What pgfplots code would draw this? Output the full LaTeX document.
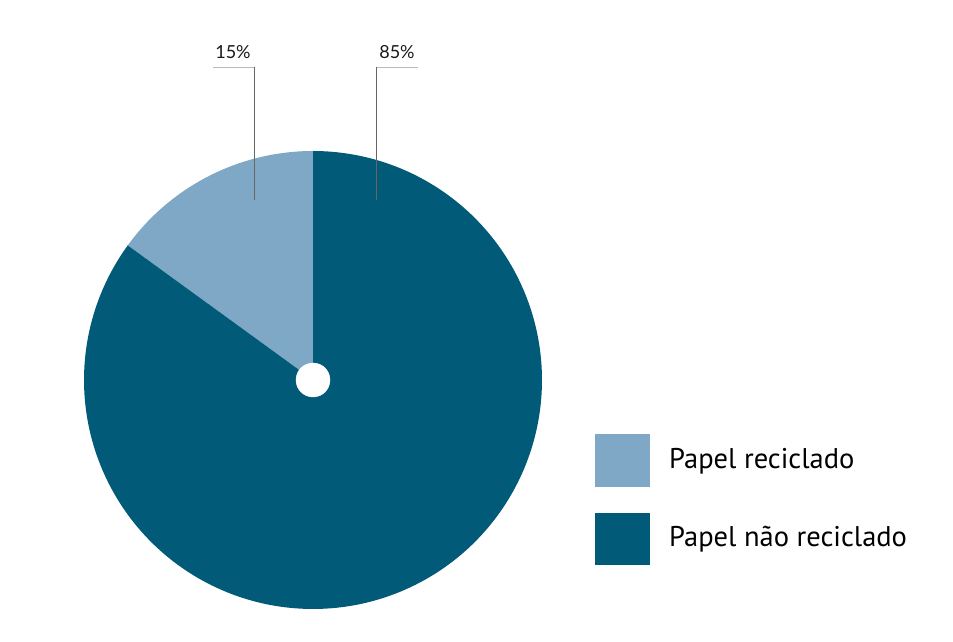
\documentclass[border=0pt]{standalone}
\usepackage{pgfplots}
\pgfplotsset{compat=1.18}
\usepackage{pgfplotstable}
\usepackage{fontspec}
\setmainfont{PT Sans}
\newfontfamily\labelfont{Lato}

\definecolor{pielight}{HTML}{7EA8C5}
\definecolor{piedark}{HTML}{005A78}
\definecolor{leadtop}{HTML}{BBBBBB}
\definecolor{leadvert}{HTML}{666666}

% share of each slice, in percent
\pgfplotstableread{
name      share
reciclado 15
nao       85
}\piedata

\pgfplotstablegetelem{0}{share}\of\piedata
\pgfmathsetmacro{\aSplit}{90+3.6*\pgfplotsretval}
\pgfmathsetmacro{\aEnd}{450}

\begin{document}
\begin{tikzpicture}
\begin{axis}[
	scale only axis,
	width=953pt, height=642pt,
	xmin=-313, xmax=640,
	ymin=-262, ymax=380,
	hide axis,
	clip=false,
]
% slices, counter-clockwise from the top
\addplot[fill=pielight, draw=none, domain=90:\aSplit, samples=60, data cs=polar]
	({x},{229}) -- (0,0) -- cycle;
\addplot[fill=piedark, draw=none, domain=\aSplit:\aEnd, samples=240, data cs=polar]
	({x},{229}) -- (0,0) -- cycle;
% hole in the middle
\addplot[only marks, mark=*, mark size=17pt, white] coordinates {(0,0)};

% leader lines
\addplot[leadtop, line width=1.4pt] coordinates {(-100,312.5) (-58.5,312.5)};
\addplot[leadvert, line width=0.6pt] coordinates {(-58.5,312.5) (-58.5,180)};
\addplot[leadtop, line width=1.4pt] coordinates {(63.5,312.5) (105,312.5)};
\addplot[leadvert, line width=0.6pt] coordinates {(63.5,312.5) (63.5,180)};
\node[anchor=base, inner sep=0pt, font=\labelfont\fontsize{18}{21}\selectfont, text=black!90]
	at (-80,321) {15\%};
\node[anchor=base, inner sep=0pt, font=\labelfont\fontsize{18}{21}\selectfont, text=black!90]
	at (84,321) {85\%};

% legend
\addplot[fill=pielight, draw=none] coordinates {(282,-54) (337,-54) (337,-107) (282,-107)} -- cycle;
\addplot[fill=piedark, draw=none] coordinates {(282,-133) (337,-133) (337,-185) (282,-185)} -- cycle;
\node[anchor=base west, inner sep=0pt, font=\fontsize{28.5}{33}\selectfont]
	at (356,-89) {Papel reciclado};
\node[anchor=base west, inner sep=0pt, font=\fontsize{28.5}{33}\selectfont]
	at (356,-167) {Papel não reciclado};
\end{axis}
\path[use as bounding box] (current axis.south west) rectangle (current axis.north east);
\end{tikzpicture}
\end{document}
